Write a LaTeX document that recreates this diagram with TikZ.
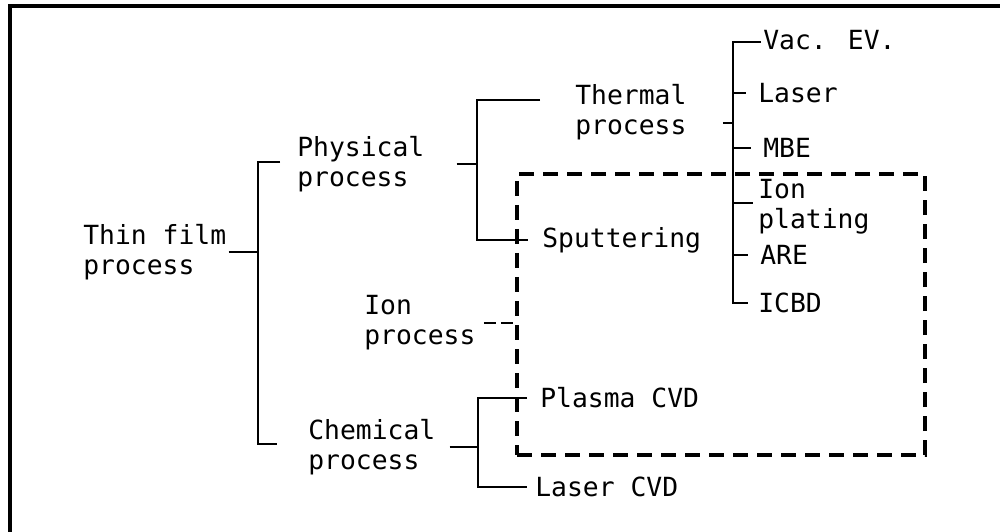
\documentclass[tikz,border=0pt]{standalone}
\usepackage{fontspec}
\newfontfamily\typefont{DejaVu Sans Mono}
\usetikzlibrary{calc}

\begin{document}
\begin{tikzpicture}[
    x=0.2mm, y=-0.2mm,
    lbl/.style={anchor=west, inner sep=0pt, align=left,
                font={\typefont\fontsize{15}{17}\selectfont}},
    tree/.style={line width=1.6pt},
    frame/.style={line width=2pt},
    ionbox/.style={draw, line width=2.2pt, dash pattern=on 3mm off 1.8mm,
                   minimum width=81.6mm, minimum height=56.2mm, inner sep=0pt},
    ionlink/.style={line width=1.6pt, dash pattern=on 2.4mm off 1mm},
]
\useasboundingbox (0,0) rectangle (1000,532);
\draw[frame] (10,532) -- (10,6) -- (1000,6);

% ion-process region
\node[ionbox] (ionb) at (721,314.5) {};

% labels
\node[lbl] (thin)  at (83,252)  {Thin film\\process};
\node[lbl] (phys)  at (297,164) {Physical\\process};
\node[lbl] (ionp)  at (364,323) {Ion\\process};
\node[lbl] (chem)  at (308,447) {Chemical\\process};
\node[lbl] (therm) at (575,112) {Thermal\\process};
\node[lbl] (sput)  at (542,240) {Sputtering};
\node[lbl] (pcvd)  at (540,398) {Plasma CVD};
\node[lbl] (lcvd)  at (535,487) {Laser CVD};
\node[lbl] (vac)   at (763,40)  {Vac. EV.};
\node[lbl] (laser) at (758,93)  {Laser};
\node[lbl] (mbe)   at (763,148) {MBE};
\node[lbl] (ionpl) at (758,207) {Ion\\plating};
\node[lbl] (are)   at (760,255) {ARE};
\node[lbl] (icbd)  at (758,303) {ICBD};

% bracket junctions
\coordinate (ja) at (258,252);
\coordinate (jb) at (477,162);
\coordinate (jc) at (733,123);
\coordinate (jd) at (478,445);
\coordinate (ipt) at ($(ionpl.west)+(-5,-4)$);

% thin film -> physical / chemical
\draw[tree] ($(thin.east)+(2,0)$) -- (thin.east -| ja);
\draw[tree] ($(phys.west)+(-17,-2)$) -| (ja) |- ($(chem.west)+(-31,-3)$);
% physical -> thermal / sputtering
\draw[tree] ($(phys.east)+(32,0)$) -- (phys.east -| jb);
\draw[tree] ($(therm.west)+(-35,-12)$) -| (jb) |- ($(sput.west)+(-14,0)$);
% thermal -> methods
\draw[tree] ($(therm.east)+(36,11)$) -- (jc);
\draw[tree] ($(vac.west)+(-2,2)$) -| (jc) |- ($(icbd.west)+(-10,0)$);
\foreach \n in {laser, mbe, are}
  \draw[tree] (\n.west -| jc) -- ($(\n.west)+(-12,0)$);
\draw[tree] (ipt -| jc) -- (ipt);
% chemical -> plasma / laser CVD
\draw[tree] ($(chem.east)+(14,0)$) -- (chem.east -| jd);
\draw[tree] ($(pcvd.west)+(-13,0)$) -| (jd) |- ($(lcvd.west)+(-8,0)$);
% ion process -> region
\draw[ionlink] ($(ionp.east)+(8,0)$) -- (ionp.east -| ionb.west);
\end{tikzpicture}
\end{document}
